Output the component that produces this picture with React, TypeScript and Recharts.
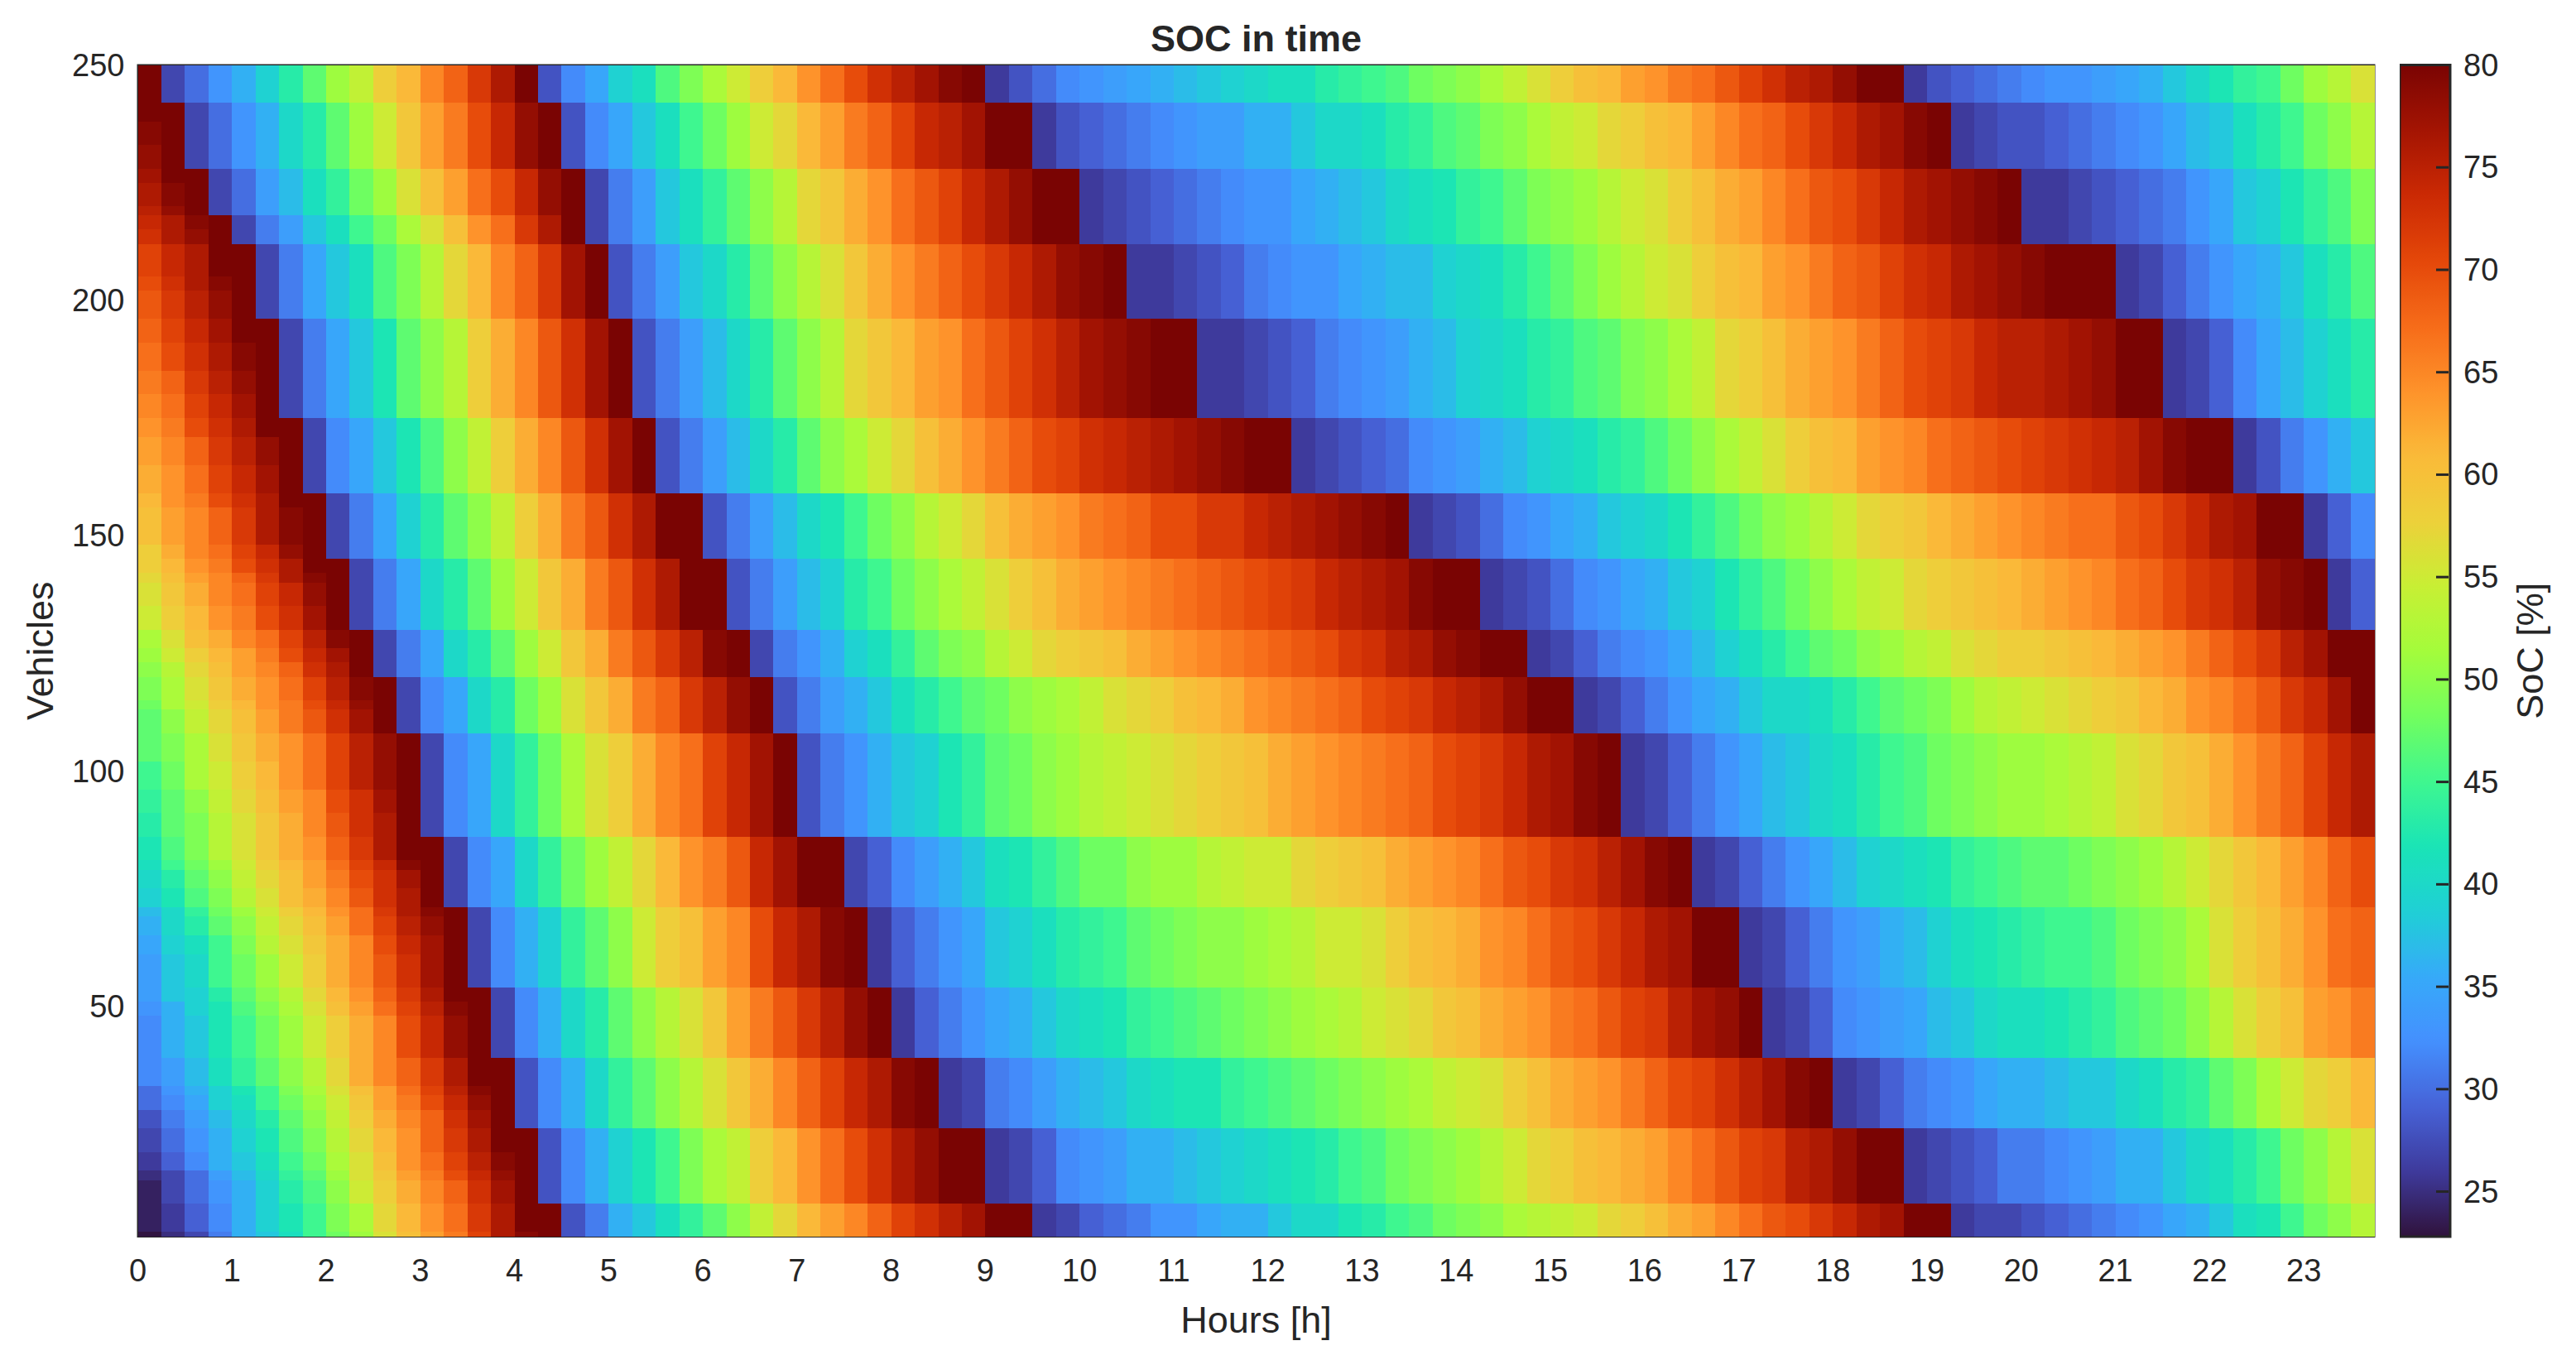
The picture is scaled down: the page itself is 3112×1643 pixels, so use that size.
import { Bar, BarChart, Label, ReferenceArea, Scatter, ScatterChart, XAxis, YAxis } from "recharts";

// Vehicles are grouped in strips with the same profile. edges = vehicle numbers from top to bottom,
// ramp = SoC per quarter hour until the first full charge, tail = the rest of the day.
const edgesA = [250, 242];
const rampA = [[80]];
const tailA = [27,30,33,36,39,43,47,51,54,58,61,65,68,72,76,80, 28,32,35,39,41,46,49,52,55,58,61,64,67,70,73,75,77,79,80, 26,28,30,32,33,34,35,36,37,38,39,40,41,41,43,44,45,46,48,49,50,52,54,56,58, 60,61,63,64,66,67,69,71,73,75,76,78,80,80, 26,28,29,30,31,32,33,33,34,35,36,38,40,42,44,45,48,51,53,56];

const edgesB = [242, 238, 233, 228];
const rampB = [[80,80],[79,80],[78,80]];
const tailB = [27,30,33,36,40,43,47,51,55,59,63,66,70,74,78,80, 28,32,35,38,41,45,48,51,55,57,61,63,66,68,71,74,75,77,80,80, 26,28,29,30,31,32,33,34,34,36,36,38,40,40,41,43,44,46,47,49,50,52,54,55,57,58,60,61,63,65,67,68,70,72,74,76,77,79,80, 26,27,28,28,29,30,31,32,33,35,37,38,41,43,45,48,50,53];

const edgesC = [228, 225, 220, 218];
const rampC = [[77,80,80],[76,79,80],[75,78,80]];
const tailC = [27,30,34,37,41,44,48,51,56,60,63,67,70,74,78,80, 27,31,34,38,41,44,47,50,53,57,59,62,64,67,69,71,74,76,78,80,80, 26,27,28,29,30,31,32,33,33,35,36,37,38,40,41,42,44,45,47,49,50, 51,53,55,56,58,60,62,63,65,67,69,70,72,74,76,77,78,79,80, 26,26,27,28,29,30,31,33,35,38,39,42,44,46,49];

const edgesD = [218, 215, 212];
const rampD = [[74,76,79,80],[73,76,78,80]];
const tailD = [27,31,34,38,41,45,48,52,56,60,64,67,72,76,80, 27,31,34,38,41,44,47,50,53,57,59,62,64,67,69,71,74,76,78,80,80, 26,27,28,29,30,31,32,33,33,35,36,37,38,40,41,42,44,45,47,49,50, 51,53,55,56,58,60,62,63,65,67,69,70,72,74,76,77,78,79,80, 26,26,27,28,29,30,31,33,35,38,39,42,44,46,49];

const edgesE = [212, 205, 202, 196];
const rampE = [[71,74,76,80,80],[70,73,76,79,80],[69,72,75,78,80]];
const tailE = [27,31,35,38,41,46,49,53,57,61,65,68,72,77,80, 28,31,34,38,40,43,47,50,53,56,59,62,64,66,68,70,72,74,76,78,79,80, 26,26,27,28,29,31,32,33,33,35,36,37,37,39,40,41,43,45, 47,49,51,53,55,56,58,60,61,63,64,66,68,69,71,73,74,76,77,78,79,80,80,80, 26,27,29,31,33,35,36,38,41,43,46];

const edgesF = [196, 191, 185, 180, 175];
const rampF = [[68,71,74,77,80,80],[67,70,73,76,79,80],[66,68,72,75,78,80],[65,67,71,74,77,80]];
const tailF = [27,31,35,38,42,47,50,53,58,62,65,69,73,77,80, 28,31,34,37,40,43,47,50,53,57,59,61,63,64,67,69,71,73,75,77,78,79,80,80, 26,26,27,28,29,31,32,33,34,36,37,39,40,41,43, 44,46,47,49,50,52,54,57,58,60,62,63,64,66,68,70,71,72,74,75,75,76,77,78,80,80, 26,27,29,32,35,37,39,41,43];

const edgesG = [175, 171, 165, 159];
const rampG = [[64,66,70,73,76,80,80],[63,65,68,72,75,78,80],[62,64,67,71,74,77,80]];
const tailG = [27,32,35,38,42,46,50,54,58,62,65,69,73,77,80, 28,31,34,37,40,43,47,50,52,55,57,60,62,64,66,68,70,71,73,74,75,76,77,78,79,80,80, 26,27,28,29,30,32,33,34,36,37,39, 40,41,43,44,46,48,50,52,54,56,58,60,61,63,64,65,67,68,69,70,71,72,73,74,75,77,79,80,80, 26,28,31,33,36,38];

const edgesH = [159, 156, 148, 145];
const rampH = [[61,64,66,70,73,76,80,80],[60,63,65,68,72,76,79,80],[58,62,65,67,71,74,78,80]];
const tailH = [27,31,35,39,43,47,50,54,58,62,66,69,73,76,80,80, 28,31,34,37,40,42,45,48,50,53,55,57,60,62,63,64,66,67,68,70,70,72,72,74,75,76,77,78,79,80, 26,27,28,30,32,33, 35,36,38,39,40,42,44,46,48,50,51,53,55,57,58,59,61,62,63,64,65,66,67,67,69,70,72,74,76,77,80,80, 26,29,32];

const edgesI = [145, 142, 140, 135, 130];
const rampI = [[58,61,64,66,70,73,76,80,80],[57,60,63,65,68,72,76,79,80],[56,59,62,65,67,71,74,78,80],[55,58,61,64,66,70,73,77,80]];
const tailI = [27,31,35,40,43,47,51,55,59,62,66,69,73,76,80,80, 28,31,34,37,39,43,45,48,50,52,54,56,58,60,62,63,64,65,66,67,68,69,70,71,72,74,75,76,77,79,80,80, 26,27,28, 30,32,33,35,36,38,39,42,44,46,48,50,52,54,55,57,58,59,60,61,62,63,64,65,67,68,70,72,73,75,78,79,80, 26,29];

const edgesJ = [130, 126, 123, 120];
const rampJ = [[52,56,60,62,65,67,71,75,79,80],[51,55,58,61,63,66,70,74,77,80],[50,53,57,60,63,65,68,73,76,80]];
const tailJ = [27,31,35,40,43,47,51,55,59,62,66,69,72,75,79,80, 27,31,33,36,39,41,44,47,49,50,53,55,57,58,59,60,62,63,64,65,66,67,68,69,70,72,73,75,76,78,79,80,80, 26, 27,29,31,32,33,35,37,39,41,43,45,47,48,50,51,53,54,56,57,58,58,59,60,61,62,63,64,66,68,70,72,75,77,80,80];

const edgesK = [120, 115, 113, 108];
const rampK = [[49,52,56,59,62,64,67,71,75,79,80],[48,52,55,58,61,64,66,70,74,78,80],[47,50,54,57,60,63,66,69,73,77,80]];
const tailK = [27,32,35,40,43,48,51,56,59,62,66,68,72,75,78,80, 28,31,34,36,38,41,43,45,47,48,50,51,52,54,56,57,58,60,61,62,64,65,66,67,68,70,71,72,74,75,76,78,80,80, 26,27,29,31,33,35,36,38,40,40,41,43,45,47,48,49,51,53,54,55,56,57,58,59,61,62,64,65,67,69,72,74,77,80];

const edgesL = [108, 102, 96, 91, 86];
const rampL = [[47,49,52,56,59,62,64,67,71,75,78,80],[45,48,52,55,58,61,64,67,71,75,78,80],[44,47,50,54,57,60,63,65,70,73,77,80],[43,47,49,53,56,59,62,65,69,73,76,80]];
const tailL = [27,32,35,40,44,48,52,56,58,62,65,67,71,74,77,80, 28,31,33,36,38,39,42,44,47,48,50,51,53,54,55,56,57,58,59,60,62,63,64,65,66,67,68,70,71,72,74,76,77,79,80, 26,27,29,31,33,35,37,38,40,41,43,45,46,48,49,50,51,51,52,53,54,56,57,59,60,62,64,66,68,71,74,76];

const edgesM = [86, 81, 79, 75, 71];
const rampM = [[42,46,49,53,56,59,62,64,68,72,76,80,80],[41,45,48,51,55,58,61,63,67,71,74,79,80],[40,43,47,50,54,57,60,63,66,70,73,77,80],[39,42,46,49,53,56,60,62,65,69,73,76,80]];
const tailM = [27,32,35,40,44,48,51,54,57,61,64,66,69,74,77,80,80, 27,29,32,34,36,38,41,42,44,46,48,48,50,51,51,53,54,55,55,57,58,59,60,62,63,64,65,67,69,70,72,73,75,77,79,80, 26,27,29,31,33,35,37,39,40,41,42,44,45,46,47,47,48,49,50,51,53,55,57,59,61,63,65,68,70];

const edgesN = [71, 69, 65, 61, 54];
const rampN = [[37,40,44,48,51,55,58,61,64,67,72,76,79,80],[36,40,43,47,50,54,57,60,63,67,71,75,78,80],[35,39,41,45,49,53,56,59,62,65,70,74,77,80],[34,38,40,45,48,51,55,58,62,65,69,73,77,80]];
const tailN = [27,32,36,39,44,47,50,55,58,60,63,65,70,74,76,79,80, 26,29,31,33,35,38,39,41,43,44,45,47,48,49,50,50,51,52,53,55,55,56,58,60,61,62,64,65,67,69,70,72,74,76,77,80,80, 26,27,29,31,33,34,36,37,39,41,42,43,44,45,45,46,48,49,50,52,56,58,60,62,64,67,68];

const edgesO = [54, 51, 48, 39];
const rampO = [[34,38,39,43,47,50,53,57,61,64,68,72,76,80,80],[33,36,39,42,46,49,52,56,60,63,67,71,75,79,80],[32,36,38,42,45,48,51,55,58,62,65,70,74,78,80]];
const tailO = [27,32,36,40,43,47,50,53,56,59,63,66,69,72,75,78,80, 26,29,31,33,35,36,38,40,41,42,44,45,46,47,48,49,50,51,52,53,55,56,57,59,60,62,63,64,66,67,69,71,72,75,77,78,80, 26,27,29,32,33,34,35,37,38,40,41,41,42,43,44,46,47,48,50,53,56,58,60,63,64,66];

const edgesP = [39, 33, 31, 28, 24];
const rampP = [[32,34,37,41,44,47,50,53,57,62,65,68,72,76,80,80],[30,33,36,39,42,45,49,52,56,60,63,67,71,75,79,80],[30,32,35,39,41,45,48,51,55,59,63,66,70,74,78,80],[28,31,34,37,40,43,47,50,54,58,62,65,68,73,77,80]];
const tailP = [28,32,36,40,44,47,50,53,56,59,62,65,68,71,74,76,79,80, 26,27,31,32,34,36,37,38,40,41,42,42,44,45,46,47,48,49,50,51,52,54,55,56,58,60,62,63,64,66,68,70,71,73,75,77,79,80, 26,27,29,31,32,33,35,36,36,37,38,38,40,41,43,44,47,49,52,55,57,58,61];

const edgesQ = [24, 19, 15, 13, 8];
const rampQ = [[27,30,33,36,39,42,46,49,53,57,61,64,68,72,76,80,80],[26,29,32,36,38,41,45,48,52,56,60,64,67,71,75,79,80],[25,27,30,34,37,40,44,47,51,56,59,63,66,70,74,78,80],[24,27,30,33,36,39,43,46,50,55,58,62,65,68,73,77,80]];
const tailQ = [28,32,36,39,42,45,49,52,54,58,61,64,67,70,73,76,78,80,80, 26,27,29,32,33,34,36,36,37,38,39,40,41,42,43,45,46,48,49,50,51,53,55,57,58,60,61,62,63,65,67,69,71,72,75,76,78,80,80, 26,27,28,29,31,31,32,33,34,36,36,38,40,41,43,45,48,50,53,56];

const edgesR = [8, 2, 1];
const rampR = [[24,26,29,32,36,39,42,45,49,52,57,61,64,67,72,76,80,80],[23,25,27,31,36,38,41,45,48,51,56,60,63,66,71,76,79,80]];
const tailR = [28,31,36,38,41,44,47,50,54,57,61,63,65,68,71,73,75,77,80,80, 26,27,29,30,31,33,33,35,36,36,38,40,40,42,43,45,46,48,49,50,52,53,54,55,57,58,60,62,63,65,67,69,70,72,74,76,77,80,80, 26,27,27,28,29,30,31,32,33,35,36,38,41,42,45,48,50,53];

const bandTable: [number[], number[][], number[]][] = [
  [edgesA, rampA, tailA], [edgesB, rampB, tailB], [edgesC, rampC, tailC], [edgesD, rampD, tailD],
  [edgesE, rampE, tailE], [edgesF, rampF, tailF], [edgesG, rampG, tailG], [edgesH, rampH, tailH],
  [edgesI, rampI, tailI], [edgesJ, rampJ, tailJ], [edgesK, rampK, tailK], [edgesL, rampL, tailL],
  [edgesM, rampM, tailM], [edgesN, rampN, tailN], [edgesO, rampO, tailO], [edgesP, rampP, tailP],
  [edgesQ, rampQ, tailQ], [edgesR, rampR, tailR],
];

const hourTicks = [0,1,2,3,4,5,6,7,8,9,10,11,12,13,14,15,16,17,18,19,20,21,22,23];
const vehicleTicks = [50, 100, 150, 200, 250];
const socTicks = [25, 30, 35, 40, 45, 50, 55, 60, 65, 70, 75, 80];
const SOC_MIN = 22.8;
const SOC_MAX = 80;
const HOUR_MAX = 23.75;

const WIDTH = 3112;
const HEIGHT = 1643;
const PLOT = { left: 166.5, right: 2868.5, top: 78.5, bottom: 1494 };
const pxPerHour = (PLOT.right - PLOT.left) / HOUR_MAX;
const pxPerVehicle = (PLOT.bottom - PLOT.top) / 249;
const INK = "#262626";
const FONT = "'Liberation Sans', Arial, sans-serif";

// turbo colormap, evenly spaced anchors
const turboStops = [
  [48,18,59],[62,58,156],[70,98,215],[68,144,254],[54,170,249],[31,208,213],[26,228,182],[63,247,143],[114,254,94],[164,252,59],
  [200,239,52],[237,208,58],[250,186,57],[254,146,42],[246,107,25],[228,71,9],[203,42,4],[164,20,3],[122,4,3],
];
function turbo(t: number) {
  const x = Math.min(1, Math.max(0, t)) * (turboStops.length - 1);
  const i = Math.min(turboStops.length - 2, Math.floor(x));
  const f = x - i;
  const [r, g, b] = turboStops[i].map((c, k) => Math.round(c + (turboStops[i + 1][k] - c) * f));
  return `rgb(${r},${g},${b})`;
}
const socColor = (soc: number) => turbo((soc - SOC_MIN) / (SOC_MAX - SOC_MIN));

const cells = bandTable.flatMap(([edges, ramps, tail]) =>
  ramps.flatMap((ramp, i) =>
    [...ramp, ...tail].map((soc, col) => ({
      hour: col * 0.25 + 0.125,
      vehicle: (edges[i] + edges[i + 1]) / 2,
      span: edges[i] - edges[i + 1],
      soc,
    }))
  )
);

function Cell(props: any) {
  const { cx, cy, payload } = props;
  const w = pxPerHour * 0.25;
  const h = payload.span * pxPerVehicle;
  return <rect x={cx - w / 2} y={cy - h / 2} width={w} height={h} fill={socColor(payload.soc)} shapeRendering="crispEdges" />;
}

const tickStyle = { fill: INK, fontSize: 38, fontFamily: FONT };
const titleStyle = { fill: INK, fontSize: 45, fontFamily: FONT };

function ColorbarTick(props: any) {
  const { x, y, payload } = props;
  return (
    <g>
      {payload.value !== 80 && <line x1={x - 17} x2={x - 2} y1={y} y2={y} stroke={INK} strokeWidth={3} />}
      <text x={x + 16} y={y + 13} {...tickStyle}>{payload.value}</text>
    </g>
  );
}

const colorbarData = [{ name: "soc", range: [SOC_MIN, SOC_MAX] }];
const colorbarStops = Array.from({ length: 129 }, (_, i) => i / 128);

export default function App() {
  return (
    <div style={{ position: "absolute", left: 0, top: 0, width: WIDTH, height: HEIGHT, background: "#fff" }}>
      <div style={{ position: "absolute", left: 0, top: 0 }}>
        <ScatterChart
          width={PLOT.right + 10}
          height={HEIGHT}
          margin={{ top: PLOT.top, right: 10, bottom: 0, left: 0 }}
        >
          <XAxis
            type="number"
            dataKey="hour"
            domain={[0, HOUR_MAX]}
            ticks={hourTicks}
            interval={0}
            height={HEIGHT - PLOT.bottom}
            axisLine={false}
            tickLine={false}
            tickSize={0}
            tickMargin={27}
            tick={tickStyle}
          >
            <Label value="Hours [h]" position="insideTop" offset={84} style={titleStyle} />
          </XAxis>
          <YAxis
            type="number"
            dataKey="vehicle"
            domain={[1, 250]}
            ticks={vehicleTicks}
            interval={0}
            width={PLOT.left}
            axisLine={false}
            tickLine={false}
            tickSize={0}
            tickMargin={16}
            tick={tickStyle}
          >
            <Label value="Vehicles" angle={-90} position="insideLeft" offset={48} style={{ ...titleStyle, textAnchor: "middle" }} />
          </YAxis>
          <Scatter data={cells} shape={Cell} isAnimationActive={false} />
          <ReferenceArea x1={0} x2={HOUR_MAX} y1={1} y2={250} fill="none" stroke={INK} strokeWidth={2} ifOverflow="visible" />
          <text x={(PLOT.left + PLOT.right) / 2} y={62} textAnchor="middle" fontWeight="bold" {...titleStyle}>SOC in time</text>
        </ScatterChart>
      </div>
      <div style={{ position: "absolute", left: 2899, top: 0 }}>
        <BarChart
          width={WIDTH - 2899}
          height={HEIGHT}
          data={colorbarData}
          barCategoryGap={0}
          margin={{ top: PLOT.top, right: 0, bottom: HEIGHT - PLOT.bottom, left: 0 }}
        >
          <defs>
            <linearGradient id="socBar" x1="0" y1="1" x2="0" y2="0">
              {colorbarStops.map((s) => (
                <stop key={s} offset={s} stopColor={turbo(s)} />
              ))}
            </linearGradient>
          </defs>
          <XAxis dataKey="name" hide />
          <YAxis
            orientation="right"
            type="number"
            domain={[SOC_MIN, SOC_MAX]}
            ticks={socTicks}
            interval={0}
            width={WIDTH - 2899 - 61}
            axisLine={false}
            tickLine={false}
            tickSize={0}
            tickMargin={0}
            tick={<ColorbarTick />}
          >
            <Label value="SoC [%]" angle={-90} position="insideRight" offset={56} style={{ ...titleStyle, textAnchor: "middle" }} />
          </YAxis>
          <Bar dataKey="range" fill="url(#socBar)" stroke={INK} strokeWidth={3} isAnimationActive={false} />
        </BarChart>
      </div>
    </div>
  );
}
